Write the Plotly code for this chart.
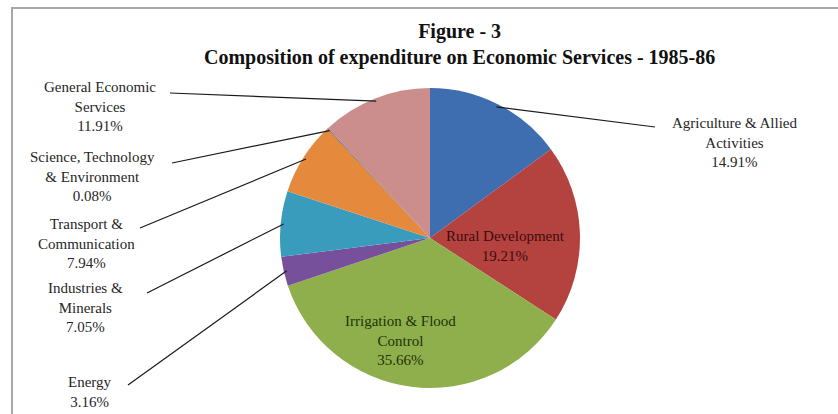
import math
import plotly.graph_objects as go

W, H = 838, 414

labels = ["Agriculture & Allied Activities", "Rural Development", "Irrigation & Flood Control",
          "Energy", "Industries & Minerals", "Transport & Communication",
          "Science, Technology & Environment", "General Economic Services"]
values = [14.91, 19.21, 35.66, 3.16, 7.05, 7.94, 0.08, 11.91]
label_text = ["Agriculture & Allied<br>Activities", "Rural Development", "Irrigation & Flood<br>Control",
              "Energy", "Industries &<br>Minerals", "Transport &<br>Communication",
              "Science, Technology<br>& Environment", "General Economic<br>Services"]
colors = ["#3E6EAF", "#B4423F", "#8EAF4B", "#76509A", "#3A9CBD", "#E58A3C", "#2C4D75", "#CB8E8D"]

# layout (pixel) settings
CX, CY, R = 430, 238, 150
# label centre positions and leader-line start points (None = inside label)
label_pos = [(734, 142), (505, 246), (400, 340), (90, 392), (85, 307), (86, 243), (92, 176), (100, 106)]
leader_start = [(655, 127), None, None, (128, 385), (147, 293), (140, 228), (172, 163), (170, 93)]
text_colors = ["#262626", "#3d0d0d", "#1f3309", "#262626", "#262626", "#262626", "#262626", "#262626"]

SERIF = "Times New Roman, Liberation Serif, DejaVu Serif, serif"


def px(x):
    return x / W


def py(y):
    return 1 - y / H


fig = go.Figure()
fig.add_trace(go.Pie(
    labels=labels, values=values, sort=False, direction="clockwise", rotation=0,
    marker=dict(colors=colors, line=dict(width=0)),
    textinfo="none", hoverinfo="label+value",
    domain=dict(x=[px(CX - R), px(CX + R)], y=[py(CY + R), py(CY - R)]),
    showlegend=False,
))

total = sum(values)
cum = 0.0
annotations = []
shapes = []
for i, v in enumerate(values):
    mid = (cum + v / 2) / total * 2 * math.pi
    cum += v
    tx = CX + 0.98 * R * math.sin(mid)
    ty = CY - 0.98 * R * math.cos(mid)
    lx, ly = label_pos[i]
    annotations.append(dict(
        x=px(lx), y=py(ly), xref="paper", yref="paper", showarrow=False,
        text=f"{label_text[i]}<br>{v:.2f}%", align="center",
        font=dict(family=SERIF, size=15, color=text_colors[i]),
        xanchor="center", yanchor="middle",
    ))
    if leader_start[i] is not None:
        sx, sy = leader_start[i]
        shapes.append(dict(type="line", xref="paper", yref="paper",
                           x0=px(sx), y0=py(sy), x1=px(tx), y1=py(ty),
                           line=dict(color="#1a1a1a", width=1.2)))

annotations.append(dict(
    x=px(460), y=py(44), xref="paper", yref="paper", showarrow=False,
    text="<b>Figure - 3</b><br><b>Composition of expenditure on Economic Services - 1985-86</b>",
    font=dict(family=SERIF, size=20, color="#111111"),
    xanchor="center", yanchor="middle", align="center",
))

shapes.append(dict(type="rect", xref="paper", yref="paper",
                   x0=px(12), y0=-0.05, x1=1.05, y1=py(8),
                   line=dict(color="#a8a8a8", width=2)))

fig.update_layout(
    width=W, height=H, margin=dict(l=0, r=0, t=0, b=0),
    paper_bgcolor="white", plot_bgcolor="white",
    font=dict(family=SERIF),
    annotations=annotations, shapes=shapes,
)

fig.write_html("out.html")
